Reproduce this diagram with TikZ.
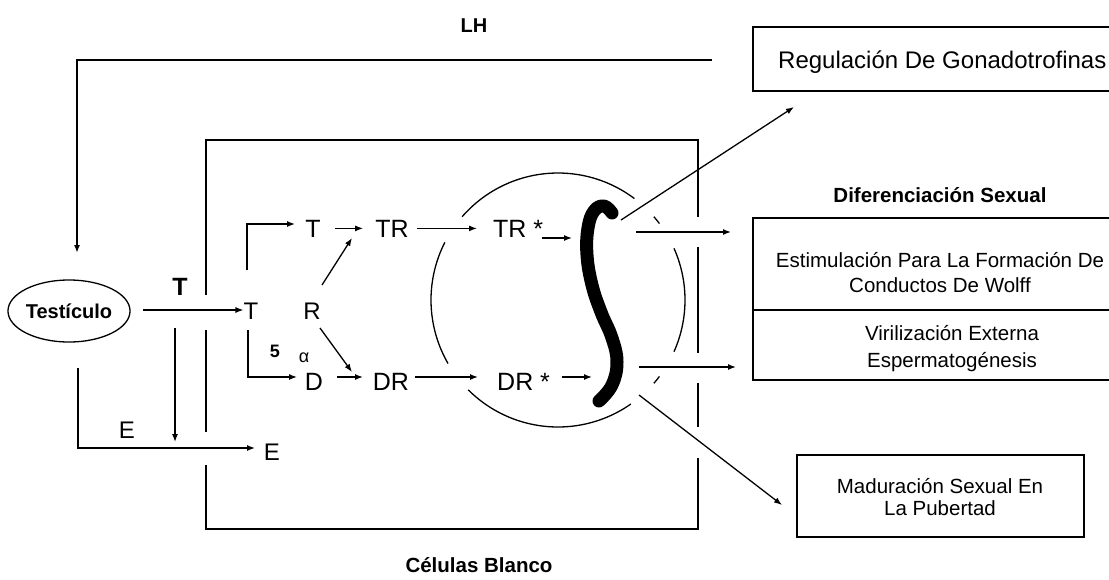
\documentclass[tikz,border=0pt]{standalone}
\usepackage{fontspec}
\setmainfont{Liberation Sans}
\usetikzlibrary{arrows.meta,shapes.geometric}
\begin{document}
\begin{tikzpicture}[x=1pt,y=-1pt,
  ln/.style={line width=1.5pt},
  arr/.style={line width=1.3pt,-{Latex[length=8pt,width=6pt]}},
  lbl/.style={inner sep=0pt,anchor=base,font=\fontsize{25}{30}\selectfont},
  lblb/.style={inner sep=0pt,anchor=base,font=\fontsize{25}{30}\selectfont\bfseries},
  boxtxt/.style={inner sep=0pt,anchor=base,font=\fontsize{20.5}{24}\selectfont},
  head/.style={inner sep=0pt,anchor=base,font=\fontsize{20.5}{24}\selectfont\bfseries},
  arcline/.style={line width=1.3pt},
]
\useasboundingbox (0,0) rectangle (1109,579);

% ---------- labels ----------
\node[head,font=\fontsize{20}{24}\selectfont\bfseries] (LH) at (474,32) {LH};
\node[draw,ellipse,line width=1.3pt,minimum width=112pt,minimum height=62pt,inner sep=0pt,
      font=\fontsize{20}{24}\selectfont\bfseries] (test) at (69,311) {Testículo};
\node[lblb] (Tlab) at (180,295) {T};
\node[lbl,font=\fontsize{24}{28}\selectfont] (Tin) at (251,319) {T};
\node[lbl] (Ttop) at (313,237) {T};
\node[lbl] (TR) at (392,237) {TR};
\node[lbl,anchor=base west] (TRs) at (493,237) {TR *};
\node[lbl,font=\fontsize{24}{28}\selectfont] (R) at (312,319) {R};
\node[lbl] (D) at (314,390) {D};
\node[lbl] (DR) at (391,390) {DR};
\node[lbl,anchor=base west] (DRs) at (497,390) {DR *};
\node[inner sep=0pt,anchor=base,font=\fontsize{18}{20}\selectfont\bfseries] (five) at (275,357) {5};
\node[inner sep=0pt,anchor=base,font=\fontsize{18}{20}\selectfont] (alpha) at (304,362) {α};
\node[lbl,font=\fontsize{24}{28}\selectfont] (Eup) at (127,438) {E};
\node[lbl,font=\fontsize{24}{28}\selectfont] (E) at (272,460) {E};
\node[head] (CB) at (479,572) {Células Blanco};

% ---------- feedback LH ----------
\coordinate (fb1) at (712,60);
\coordinate (fb2) at (77,60);
\coordinate (fb3) at (77,253);
\draw[arr,line width=1.6pt] (fb1) -- (fb2) -- (fb3);

% ---------- left part ----------
\coordinate (tOut) at (143,310);
\draw[arr] (tOut) -- (tOut -| Tin.west);
\coordinate (dn0) at (175,328);
\coordinate (dn1) at (175,442);
\draw[arr] (dn0) -- (dn1);
\coordinate (e0) at (78,368);
\coordinate (e1) at (255,448);
\draw[arr] (e0) |- (e1);

% ---------- branches ----------
\coordinate (ub0) at (247,270);
\coordinate (ub1) at (295,224);
\draw[arr] (ub0) |- (ub1);
\coordinate (lb0) at (248,330);
\coordinate (lb1) at (297,377);
\draw[arr] (lb0) |- (lb1);

\draw[arr,shorten <=14pt,shorten >=12pt] (Ttop.east) -- (TR.west);
\draw[arr,shorten <=8pt,shorten >=16pt] (TR.east) -- (TR.east -| TRs.west);
\coordinate (r1) at (322,285);
\coordinate (r2) at (352,238);
\coordinate (r3) at (320,328);
\coordinate (r4) at (352,372);
\draw[arr] (r1) -- (r2);
\draw[arr] (r3) -- (r4);
\coordinate (d0) at (337,377);
\coordinate (d1) at (363,377);
\draw[arr] (d0) -- (d1);
\coordinate (dr0) at (415,377);
\coordinate (dr1) at (478,377);
\draw[arr] (dr0) -- (dr1);

% into the nucleus
\coordinate (ti0) at (542,238);
\coordinate (ti1) at (572,238);
\draw[arr] (ti0) -- (ti1);
\coordinate (di0) at (562,377);
\coordinate (di1) at (592,377);
\draw[arr] (di0) -- (di1);

% ---------- target-cell box (with gaps) ----------
\draw[ln] (206,295) -- (206,140) -- (698,140) -- (698,217);
\draw[ln] (206,330) -- (206,432);
\draw[ln] (206,465) -- (206,529) -- (698,529) -- (698,458);
\draw[ln] (698,247) -- (698,353);
\draw[ln] (698,383) -- (698,427);

% ---------- nucleus ----------
\coordinate (nuc) at (558,300);
\draw[arcline] plot[domain=53:139,samples=50] ({558+127*cos(\x)},{300-127*sin(\x)});
\draw[arcline] plot[domain=153:210,samples=40] ({558+127*cos(\x)},{300-127*sin(\x)});
\draw[arcline] plot[domain=225:305,samples=50] ({558+127*cos(\x)},{300-127*sin(\x)});
\draw[arcline] plot[domain=-24:24,samples=30] ({558+127*cos(\x)},{300-127*sin(\x)});
\draw[arcline] plot[domain=37:41,samples=5] ({558+127*cos(\x)},{300-127*sin(\x)});
\draw[arcline] plot[domain=-41:-37,samples=5] ({558+127*cos(\x)},{300-127*sin(\x)});

\draw[line width=13pt,line cap=round,line join=round]
  plot[smooth,tension=0.7] coordinates {(612,213) (604,206) (594,211) (588,228) (587,255) (592,285) (601,312) (612,338) (617,362) (612,385) (599,401)};

% ---------- outputs ----------
\coordinate (o1s) at (621,220);
\coordinate (o1e) at (794,107);
\draw[arr] (o1s) -- (o1e);
\coordinate (o2s) at (636,232);
\coordinate (o2e) at (731,232);
\draw[arr] (o2s) -- (o2e);
\coordinate (o3s) at (639,367);
\coordinate (o3e) at (736,367);
\draw[arr] (o3s) -- (o3e);
\coordinate (o4s) at (639,395);
\coordinate (o4e) at (782,505);
\draw[arr] (o4s) -- (o4e);

% ---------- right boxes ----------
\draw[ln] (1110,27) -- (753,27) -- (753,91) -- (1110,91);
\node[inner sep=0pt,anchor=base west,font=\fontsize{24}{28}\selectfont] (reg) at (778,68) {Regulación De Gonadotrofinas};

\node[head] (dif) at (940,202) {Diferenciación Sexual};

\draw[ln] (1110,218) -- (753,218) -- (753,380) -- (1110,380);
\draw[ln] (753,310) -- (1110,310);
\node[boxtxt] (est1) at (940,267) {Estimulación Para La Formación De};
\node[boxtxt] (est2) at (940,292) {Conductos De Wolff};
\node[boxtxt] (vir1) at (952,340) {Virilización Externa};
\node[boxtxt] (vir2) at (952,367) {Espermatogénesis};

\node[draw,ln,minimum width=287pt,minimum height=82pt,inner sep=0pt] (madbox) at (940.5,496) {};
\node[boxtxt] (mad1) at (940,493) {Maduración Sexual En};
\node[boxtxt] (mad2) at (940,515) {La Pubertad};
\end{tikzpicture}
\end{document}
